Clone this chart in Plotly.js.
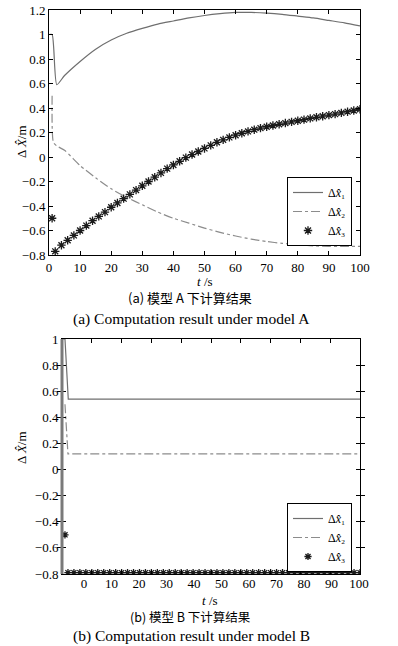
<!DOCTYPE html>
<html>
<head>
<meta charset="utf-8">
<script src="https://cdn.plot.ly/plotly-3.0.1.min.js"></script>
<style>
html,body{margin:0;padding:0;background:#fff;}
#chart{width:398px;height:646px;}
</style>
</head>
<body>
<div id="chart"></div>
<script>
// ---------- Model A ----------
const tA1 = [0, 1, 2.5, 5, 10, 15, 20, 25, 30, 35, 40, 45, 50, 55, 60, 65, 70, 75, 80, 85, 90, 95, 100];
const xA1 = [1.0, 1.0, 0.59, 0.665, 0.78, 0.88, 0.955, 1.01, 1.05, 1.085, 1.11, 1.135, 1.155, 1.17, 1.18, 1.18, 1.175, 1.165, 1.15, 1.135, 1.115, 1.095, 1.07];

const tA2 = [1, 1.4, 2.5, 5, 10, 15, 20, 25, 30, 35, 40, 45, 50, 55, 60, 65, 70, 75, 80, 85, 90, 95, 100];
const xA2 = [0.5, 0.12, 0.09, 0.055, -0.07, -0.17, -0.26, -0.33, -0.39, -0.45, -0.50, -0.54, -0.58, -0.615, -0.645, -0.67, -0.69, -0.705, -0.715, -0.725, -0.73, -0.73, -0.73];

const tA3 = [1, 2, 4, 6, 8, 10, 12, 14, 16, 18, 20, 22, 24, 26, 28, 30, 32, 34, 36, 38, 40, 42, 44, 46, 48, 50,
             52, 54, 56, 58, 60, 62, 64, 66, 68, 70, 72, 74, 76, 78, 80, 82, 84, 86, 88, 90, 92, 94, 96, 98, 100];
const xA3 = [-0.5, -0.77, -0.72, -0.68, -0.64, -0.60, -0.56, -0.52, -0.485, -0.45, -0.41, -0.375, -0.34, -0.305, -0.27, -0.235,
             -0.20, -0.165, -0.13, -0.095, -0.065, -0.035, -0.005, 0.02, 0.045, 0.07,
             0.095, 0.12, 0.14, 0.16, 0.178, 0.194, 0.209, 0.223, 0.236, 0.247, 0.257, 0.267, 0.277, 0.287,
             0.296, 0.305, 0.315, 0.324, 0.333, 0.342, 0.35, 0.36, 0.37, 0.38, 0.39];

// ---------- Model B ----------
const tB1 = [0, 1, 2.1, 100];
const xB1 = [1.0, 1.0, 0.54, 0.54];

const tB2 = [1, 2, 100];
const xB2 = [0.5, 0.12, 0.12];

const tB3 = [1, 2, 4, 6, 8, 10, 12, 14, 16, 18, 20, 22, 24, 26, 28, 30, 32, 34, 36, 38, 40, 42, 44, 46, 48, 50,
             52, 54, 56, 58, 60, 62, 64, 66, 68, 70, 72, 74, 76, 78, 80, 82, 84, 86, 88, 90, 92, 94, 96, 98, 100];
const xB3 = [-0.5, -0.79, -0.79, -0.79, -0.79, -0.79, -0.79, -0.79, -0.79, -0.79, -0.79, -0.79, -0.79, -0.79, -0.79, -0.79,
             -0.79, -0.79, -0.79, -0.79, -0.79, -0.79, -0.79, -0.79, -0.79, -0.79,
             -0.79, -0.79, -0.79, -0.79, -0.79, -0.79, -0.79, -0.79, -0.79, -0.79, -0.79, -0.79, -0.79, -0.79,
             -0.79, -0.79, -0.79, -0.79, -0.79, -0.79, -0.79, -0.79, -0.79, -0.79, -0.79];

// ---------- Text ----------
const seriesNames = ['Δ<i>x̂</i>₁', 'Δ<i>x̂</i>₂', 'Δ<i>x̂</i>₃'];
const yTitle = 'Δ <i>X̂</i>/m';
const xTitle = '<i>t</i> /s';
const capA_zh = '(a) 模型 A 下计算结果';
const capA_en = '(a) Computation result under model A';
const capB_zh = '(b) 模型 B 下计算结果';
const capB_en = '(b) Computation result under model B';
const xTickVals = [0, 10, 20, 30, 40, 50, 60, 70, 80, 90, 100];
const yTickValsA = [-0.8, -0.6, -0.4, -0.2, 0, 0.2, 0.4, 0.6, 0.8, 1, 1.2];
const yTickTextA = ['−0.8', '−0.6', '−0.4', '−0.2', '0', '0.2', '0.4', '0.6', '0.8', '1', '1.2'];
const yTickValsB = [-0.8, -0.6, -0.4, -0.2, 0, 0.2, 0.4, 0.6, 0.8, 1];
const yTickTextB = ['−0.8', '−0.6', '−0.4', '−0.2', '0', '0.2', '0.4', '0.6', '0.8', '1'];

const SERIF = 'Liberation Serif';
const CJK = 'Noto Sans CJK SC';
const W = 398, H = 646;
const px = v => v / W;
const py = v => 1 - v / H;

const c1 = '#6f6f6f', c2 = '#8c8c8c', c3 = '#1a1a1a';

function lineTrace(x, y, name, color, dash, xa, ya, leg, smooth) {
  return {x: x, y: y, name: name, type: 'scatter', mode: 'lines',
          line: {color: color, width: 1.2, dash: dash, shape: smooth ? 'spline' : 'linear', smoothing: 0.6},
          xaxis: xa, yaxis: ya, legend: leg};
}
function starTrace(x, y, name, xa, ya, leg, size) {
  return {x: x, y: y, name: name, type: 'scatter', mode: 'markers',
          marker: {symbol: 'asterisk-open', size: size, color: c3, line: {color: c3, width: 1.3}},
          xaxis: xa, yaxis: ya, legend: leg};
}

const data = [
  lineTrace(tA1, xA1, seriesNames[0], c1, 'solid', 'x', 'y', 'legend', true),
  lineTrace(tA2, xA2, seriesNames[1], c2, 'dashdot', 'x', 'y', 'legend', true),
  starTrace(tA3, xA3, seriesNames[2], 'x', 'y', 'legend', 7),
  lineTrace(tB1, xB1, seriesNames[0], c1, 'solid', 'x2', 'y2', 'legend2', false),
  lineTrace(tB2, xB2, seriesNames[1], c2, 'dashdot', 'x2', 'y2', 'legend2', false),
  starTrace(tB3, xB3, seriesNames[2], 'x2', 'y2', 'legend2', 6),
  // carrier for the label-only axis of chart B (draws no marks)
  {x: [0, 100], y: [null, null], type: 'scatter', mode: 'lines', xaxis: 'x3', yaxis: 'y2',
   showlegend: false, hoverinfo: 'skip', line: {width: 0}}
];

const axFont = {family: SERIF, size: 13, color: '#000'};
const baseAxis = {
  showgrid: false, zeroline: false, showline: true, linecolor: '#000', linewidth: 1,
  mirror: 'allticks', ticks: 'inside', ticklen: 4, tickwidth: 1, tickcolor: '#000',
  tickfont: axFont, automargin: false
};

const legendBase = {
  bgcolor: '#fff', bordercolor: '#000', borderwidth: 1,
  font: {family: SERIF, size: 12, color: '#000'},
  xanchor: 'left', yanchor: 'top', itemwidth: 30, tracegroupgap: 0
};

function ann(text, x, y, font, angle) {
  return {text: text, xref: 'paper', yref: 'paper', x: px(x), y: py(y), showarrow: false,
          xanchor: 'center', yanchor: 'middle', font: font, textangle: angle || 0};
}

const layout = {
  width: W, height: H,
  margin: {l: 0, r: 0, t: 0, b: 0},
  paper_bgcolor: '#fff', plot_bgcolor: '#fff',
  showlegend: true,
  xaxis: Object.assign({}, baseAxis, {
    domain: [px(49), px(360)], anchor: 'y', range: [0, 100], tickvals: xTickVals
  }),
  yaxis: Object.assign({}, baseAxis, {
    domain: [py(255), py(10)], anchor: 'x', range: [-0.8, 1.2],
    tickvals: yTickValsA, ticktext: yTickTextA
  }),
  xaxis2: Object.assign({}, baseAxis, {
    domain: [px(62), px(360)], anchor: 'y2', range: [0, 100],
    tickvals: xTickVals, showticklabels: false
  }),
  xaxis3: {
    overlaying: 'x2', anchor: 'y2', side: 'bottom', range: [-8, 100.36],
    showgrid: false, zeroline: false, showline: false, ticks: '',
    tickvals: xTickVals, tickfont: axFont, automargin: false
  },
  yaxis2: Object.assign({}, baseAxis, {
    domain: [py(574), py(339)], anchor: 'x2', range: [-0.8, 1],
    tickvals: yTickValsB, ticktext: yTickTextB
  }),
  legend: Object.assign({}, legendBase, {x: px(287), y: py(177)}),
  legend2: Object.assign({}, legendBase, {x: px(287), y: py(503)}),
  shapes: [
    {type: 'line', xref: 'x2 domain', yref: 'y2 domain', x0: 0, x1: 0, y0: 0, y1: 1,
     line: {color: '#7a7a7a', width: 3}}
  ],
  annotations: [
    ann(yTitle, 21, 142, axFont, -90),
    ann(xTitle, 205, 281, axFont),
    ann(yTitle, 21, 448, axFont, -90),
    ann(xTitle, 210, 600, axFont),
    ann(capA_zh, 190, 297, {family: CJK, size: 13, color: '#000'}),
    ann(capA_en, 191, 319, {family: SERIF, size: 15.5, color: '#000'}),
    ann(capB_zh, 190, 616.5, {family: CJK, size: 12.5, color: '#000'}),
    ann(capB_en, 191, 635.5, {family: SERIF, size: 15.5, color: '#000'})
  ]
};

Plotly.newPlot('chart', data, layout, {staticPlot: true, displayModeBar: false});
</script>
</body>
</html>
